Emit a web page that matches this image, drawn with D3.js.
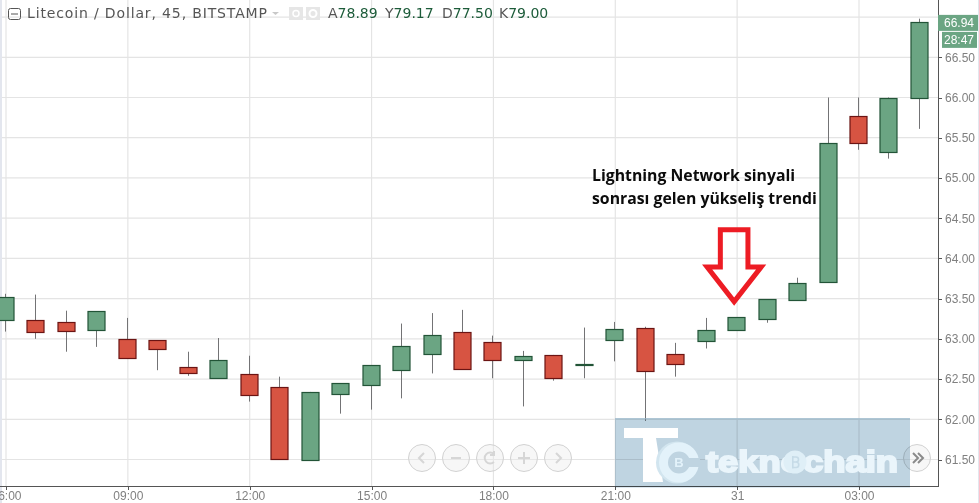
<!DOCTYPE html>
<html>
<head>
<meta charset="utf-8">
<title>Litecoin / Dollar</title>
<script src="https://cdn.jsdelivr.net/npm/d3@7"></script>
<style>
  html, body { margin: 0; padding: 0; background: #fff; overflow: hidden; }
  svg { display: block; }
  .axis text { font-family: "Liberation Sans", Arial, sans-serif; font-size: 12px; fill: #808080; }
  .axis path, .axis line { stroke: #555; shape-rendering: crispEdges; }
</style>
</head>
<body>
<svg id="chart" width="979" height="503"></svg>
<script>
// candles, 45 minute bars starting 06:00
const opens = [63.23, 63.23, 63.21, 63.10, 63.00, 62.98, 62.65, 62.52, 62.56, 62.40, 61.50,
  62.31, 62.42, 62.61, 62.82, 63.08, 62.96, 62.74, 62.80, 62.68, 62.98, 63.13, 62.81, 62.97,
  63.11, 63.24, 63.49, 63.70, 65.77, 65.33, 66.00];
const closes = [63.52, 63.08, 63.10, 63.34, 62.76, 62.87, 62.57, 62.74, 62.30, 61.50, 62.34,
  62.45, 62.67, 62.91, 63.05, 62.62, 62.74, 62.79, 62.51, 62.69, 63.12, 62.59, 62.68, 63.11,
  63.27, 63.49, 63.70, 65.43, 65.44, 66.00, 66.94];
const highs = [63.56, 63.55, 63.35, 63.34, 63.26, 62.98, 62.84, 63.01, 62.79, 62.53, 62.34,
  62.45, 62.67, 63.19, 63.32, 63.36, 63.04, 62.85, 62.80, 63.14, 63.21, 63.15, 62.95, 63.26,
  63.27, 63.49, 63.76, 66.00, 66.00, 66.00, 66.98];
const lows = [63.09, 63.00, 62.84, 62.90, 62.76, 62.61, 62.54, 62.52, 62.22, 61.50, 61.50,
  62.07, 62.12, 62.26, 62.57, 62.62, 62.51, 62.16, 62.48, 62.51, 62.72, 61.98, 62.53, 62.88,
  63.11, 63.20, 63.48, 63.70, 65.35, 65.24, 65.61];

const gridPrices = [61.5, 62, 62.5, 63, 63.5, 64, 64.5, 65, 65.5, 66, 66.5, 67];
const priceTicks = [61.5, 62, 62.5, 63, 63.5, 64, 64.5, 65, 65.5, 66, 66.5]; // 67.00 sits under the price tag
const timeTicks = ["2017-10-30T06:00Z", "2017-10-30T09:00Z", "2017-10-30T12:00Z", "2017-10-30T15:00Z",
  "2017-10-30T18:00Z", "2017-10-30T21:00Z", "2017-10-31T00:00Z", "2017-10-31T03:00Z"].map((d) => new Date(d));

const title = "Litecoin / Dollar, 45, BITSTAMP";
const ohlcLabels = ["A", "Y", "D", "K"];
const ohlcValues = ["78.89", "79.17", "77.50", "79.00"];
const lastPrice = 66.94;
const countdown = "28:47";
const noteLines = ["Lightning Network sinyali", "sonrası gelen yükseliş trendi"];

const startTime = new Date("2017-10-30T06:00Z");
const barMs = 45 * 60 * 1000;
const times = opens.map((d, i) => new Date(+startTime + i * barMs));

const width = 979, height = 503, axisX = 938, axisY = 486;
const svg = d3.select("#chart");

const x = d3.scaleUtc().domain([startTime, timeTicks[7]]).range([6, 859]);
const y = d3.scaleLinear().domain([61.5, 66]).range([459.5, 97.5]);
const bodyWidth = 17;

// edge strips
svg.append("rect").attr("x", 0).attr("y", 0).attr("width", 2).attr("height", height).attr("fill", "#e3e6ee");
svg.append("rect").attr("x", 978).attr("y", 0).attr("width", 1).attr("height", height).attr("fill", "#e3e6ee");

// grid
let grid = svg.append("g").attr("stroke", "#e4e4e4").attr("stroke-width", 1.2);
grid.selectAll(".h").data(gridPrices).enter().append("line")
  .attr("x1", 2).attr("x2", axisX)
  .attr("y1", (d) => y(d)).attr("y2", (d) => y(d));
grid.selectAll(".v").data(timeTicks).enter().append("line")
  .attr("y1", 0).attr("y2", axisY)
  .attr("x1", (d) => x(d)).attr("x2", (d) => x(d));

// candles
let candles = svg.append("g").selectAll("g").data(times).enter().append("g");
candles.append("line")
  .attr("x1", (d) => Math.round(x(d)) - 0.5).attr("x2", (d) => Math.round(x(d)) - 0.5)
  .attr("y1", (d, i) => y(highs[i])).attr("y2", (d, i) => y(lows[i]))
  .attr("stroke", "#737375").attr("stroke-width", 1);
candles.append("rect")
  .attr("x", (d) => Math.round(x(d)) - 9)
  .attr("width", bodyWidth)
  .attr("y", (d, i) => Math.round(y(Math.max(opens[i], closes[i]))) + 0.5)
  .attr("height", (d, i) => Math.max(1, Math.round(Math.abs(y(opens[i]) - y(closes[i])))))
  .attr("fill", (d, i) => (closes[i] >= opens[i] ? "#6ba583" : "#d75442"))
  .attr("stroke", (d, i) => (closes[i] >= opens[i] ? "#225437" : "#6b1413"))
  .attr("stroke-width", 1.2);

// axes
let yAxis = svg.append("g").attr("class", "axis").attr("transform", "translate(" + axisX + ",0)")
  .call(d3.axisRight(y).tickValues(priceTicks).tickSize(4).tickPadding(3).tickFormat(d3.format(".2f")));
yAxis.select(".domain").attr("d", "M0.5,0V" + axisY);

let xAxis = svg.append("g").attr("class", "axis").attr("transform", "translate(0," + axisY + ")")
  .call(d3.axisBottom(x).tickValues(timeTicks).tickSize(4).tickPadding(1)
    .tickFormat((d) => (d.getUTCHours() === 0 ? d3.utcFormat("%d")(d) : d3.utcFormat("%H:%M")(d))));
xAxis.select(".domain").attr("d", "M0,0.5H" + (axisX + 1));

// last price and countdown tags
const tagColor = "#6ba583";
svg.append("rect").attr("x", axisX).attr("y", y(lastPrice) - 7).attr("width", 40).attr("height", 16).attr("fill", tagColor);
svg.append("rect").attr("x", 942).attr("y", y(lastPrice) + 10).attr("width", 35).attr("height", 16).attr("fill", tagColor);
let tagText = svg.append("g").attr("font-family", "Liberation Sans, Arial, sans-serif").attr("font-size", 12)
  .attr("fill", "#fff").attr("text-anchor", "middle");
tagText.append("text").attr("x", 959).attr("y", y(lastPrice) + 5.5).text(d3.format(".2f")(lastPrice));
tagText.append("text").attr("x", 959).attr("y", y(lastPrice) + 22.5).text(countdown);

// header
let header = svg.append("g").attr("font-family", "DejaVu Sans, Verdana, sans-serif").attr("font-size", 14);
header.append("rect").attr("x", 8.5).attr("y", 8.5).attr("width", 12).attr("height", 11).attr("rx", 2)
  .attr("fill", "none").attr("stroke", "#555");
header.append("line").attr("x1", 11).attr("x2", 18).attr("y1", 14).attr("y2", 14).attr("stroke", "#555");
header.append("text").attr("x", 27).attr("y", 18).attr("fill", "#555").attr("textLength", 240).text(title);
header.append("path").attr("d", "M272,12l7,0l-3.5,3z").attr("fill", "#c8c8c8");
header.append("rect").attr("x", 289).attr("y", 7).attr("width", 14).attr("height", 13).attr("fill", "#e6e6e6");
header.append("circle").attr("cx", 296).attr("cy", 13.5).attr("r", 3).attr("fill", "none").attr("stroke", "#fff").attr("stroke-width", 1.5);
header.append("rect").attr("x", 306).attr("y", 7).attr("width", 14).attr("height", 13).attr("fill", "#e6e6e6");
header.append("circle").attr("cx", 313).attr("cy", 13.5).attr("r", 3.5).attr("fill", "none").attr("stroke", "#fff").attr("stroke-width", 2);
ohlcLabels.forEach((l, i) => {
  let t = header.append("text").attr("x", 328 + i * 57).attr("y", 18).attr("fill", "#555");
  t.append("tspan").text(l);
  t.append("tspan").attr("fill", "#1d5c3a").text(ohlcValues[i]);
});

// navigation buttons, icons as small paths
const navX = [422, 456, 490, 524, 558, 917];
const navIcons = ["M2,-5L-3,0L2,5", "M-5,0H5", "M4,-4A5.5,5.5 0 1 0 4,4M4,-7V-3H0", "M-6,0H6M0,-6V6", "M-2,-5L3,0L-2,5",
  "M-4,-5L1,0L-4,5M1,-5L6,0L1,5"];
let nav = svg.append("g").selectAll("g").data(navX).enter().append("g")
  .attr("transform", (d) => "translate(" + d + ",458)");
nav.append("circle").attr("r", 13.5).attr("fill", "#ececec").attr("fill-opacity", 0.4).attr("stroke", "#d2d2d2");
nav.append("path").attr("d", (d, i) => navIcons[i]).attr("fill", "none").attr("stroke-width", 2)
  .attr("stroke", (d, i) => (i === 5 ? "#8a8a8a" : "#d6d6d6"));

// watermark panel, multiplied so the grid and axis stay visible through it
svg.append("rect").attr("x", 615).attr("y", 418).attr("width", 295).attr("height", 69.5)
  .attr("fill", "#bfd4e1").style("mix-blend-mode", "multiply");
svg.append("rect").attr("x", 615).attr("y", 418).attr("width", 295).attr("height", 1.5)
  .attr("fill", "#a9c3d3").attr("opacity", 0.7);

// watermark logo
const logoLight = "#e3f2fa";
let logo = svg.append("g");
logo.append("path").attr("d", "M624,428H678V438H656L663,482H643V438H624Z").attr("fill", "#fff");
logo.append("circle").attr("cx", 677).attr("cy", 462.5).attr("r", 21).attr("fill", "#d2e5ef");
logo.append("circle").attr("cx", 679).attr("cy", 462.5).attr("r", 15.5).attr("fill", "#bfd4e1")
  .attr("stroke", logoLight).attr("stroke-width", 9);
logo.append("rect").attr("x", 689).attr("y", 458).attr("width", 11).attr("height", 9).attr("fill", "#bfd4e1");
logo.append("text").attr("x", 679).attr("y", 467).attr("text-anchor", "middle").attr("fill", logoLight)
  .attr("font-family", "Liberation Sans, sans-serif").attr("font-size", 13).attr("font-weight", "bold").text("B");
logo.append("text").attr("x", 706).attr("y", 472).attr("fill", "#eaf5fb").attr("stroke", "#eaf5fb").attr("stroke-width", 2)
  .attr("font-family", "Liberation Sans, Arial, sans-serif").attr("font-size", 30).attr("font-weight", "bold")
  .attr("textLength", 192).attr("lengthAdjust", "spacingAndGlyphs").text("teknochain");
logo.append("circle").attr("cx", 795).attr("cy", 462).attr("r", 11.5).attr("fill", "#dfeff7");
// coin mark inside the o
logo.append("path").attr("d", "M792,457H796A2.5,2.5 0 0 1 796,462H792M796,462A2.7,2.7 0 0 1 796,467.5H792M792.8,456V468.5")
  .attr("fill", "none").attr("stroke", "#c6dbe7").attr("stroke-width", 1.6);

// annotation
let note = svg.append("g").attr("font-family", "Open Sans, Noto Sans, sans-serif")
  .attr("font-weight", "bold").attr("font-size", 15.8).attr("fill", "#0b0b0b");
note.selectAll("text").data(noteLines).enter().append("text")
  .attr("x", 592).attr("y", (d, i) => 181 + i * 22.5).text((d) => d);

// arrow points at the bar after midnight
const tipX = x(times[24]) - 3, tipY = y(63.5);
const arrowPts = [[-13.8, -68.8], [13.8, -68.8], [13.8, -31.6], [27, -31.6], [0, 3], [-27, -31.6], [-13.8, -31.6]];
svg.append("polygon")
  .attr("points", arrowPts.map((p) => [tipX + p[0], tipY + p[1]].join(",")).join(" "))
  .attr("fill", "none").attr("stroke", "#ed1c24").attr("stroke-width", 5);
</script>
</body>
</html>
